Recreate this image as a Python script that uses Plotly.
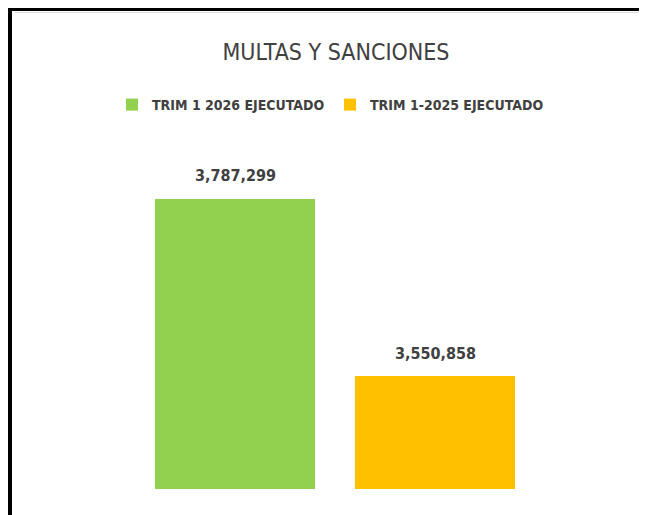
import plotly.graph_objects as go

# ---- data ----
categories = ["TRIM 1 2026 EJECUTADO", "TRIM 1-2025 EJECUTADO"]
series_names = ["TRIM 1 2026 EJECUTADO", "TRIM 1-2025 EJECUTADO"]
series_values = [3787299, 3550858]
series_colors = ["#92D050", "#FFC000"]
title_text = "MULTAS Y SANCIONES"

FONT = "DejaVu Sans Condensed, Liberation Sans Narrow, Arial Narrow, sans-serif"
TXT = "#404040"

# figure is drawn inside the page body (8px default margin), so size it to fit
W, H = 639, 507
L, R, T, B = 27, 12, 144, 26
PW, PH = W - L - R, H - T - B


def px(fx):
    return (fx - L) / PW


def py(fy):
    return (H - B - fy) / PH


fig = go.Figure()
for cat, name, val, col in zip(categories, series_names, series_values, series_colors):
    fig.add_trace(go.Bar(
        x=[cat], y=[val], name=name,
        marker=dict(color=col, line=dict(width=0)),
        hoverinfo="name+y",
    ))
    fig.add_annotation(
        x=cat, y=val, xref="x", yref="y",
        text=f"{val:,}", showarrow=False,
        yanchor="middle", yshift=23,
        font=dict(family=FONT, size=16, color=TXT, weight="bold"),
    )

fig.update_layout(
    width=W, height=H,
    margin=dict(l=L, r=R, t=T, b=B),
    paper_bgcolor="white", plot_bgcolor="white",
    barmode="overlay", bargap=0.2,
    title=dict(text=title_text, x=328 / W, xanchor="center",
               y=1 - 44 / H, yanchor="middle",
               font=dict(family=FONT, size=23, color=TXT)),
    legend=dict(orientation="h", x=px(104), xanchor="left",
                y=py(97), yanchor="middle",
                font=dict(family=FONT, size=14, color=TXT, weight="bold"),
                itemwidth=30, entrywidthmode="pixels", entrywidth=173,
                bgcolor="rgba(0,0,0,0)"),
    xaxis=dict(visible=False, range=[-1, 2]),
    yaxis=dict(visible=False, range=[3400000, 3850000]),
    showlegend=True,
)

# chart frame lines (left and top)
fig.add_shape(type="line", xref="paper", yref="paper",
              x0=px(6.5), x1=px(W + 10), y0=py(4.5), y1=py(4.5),
              line=dict(color="#dcdcdc", width=1))
fig.add_shape(type="line", xref="paper", yref="paper",
              x0=px(2), x1=px(2), y0=py(-1), y1=py(H + 10),
              line=dict(color="black", width=4))
fig.add_shape(type="line", xref="paper", yref="paper",
              x0=px(0), x1=px(W + 10), y0=py(1), y1=py(1),
              line=dict(color="black", width=4))

fig.write_html("out.html")
